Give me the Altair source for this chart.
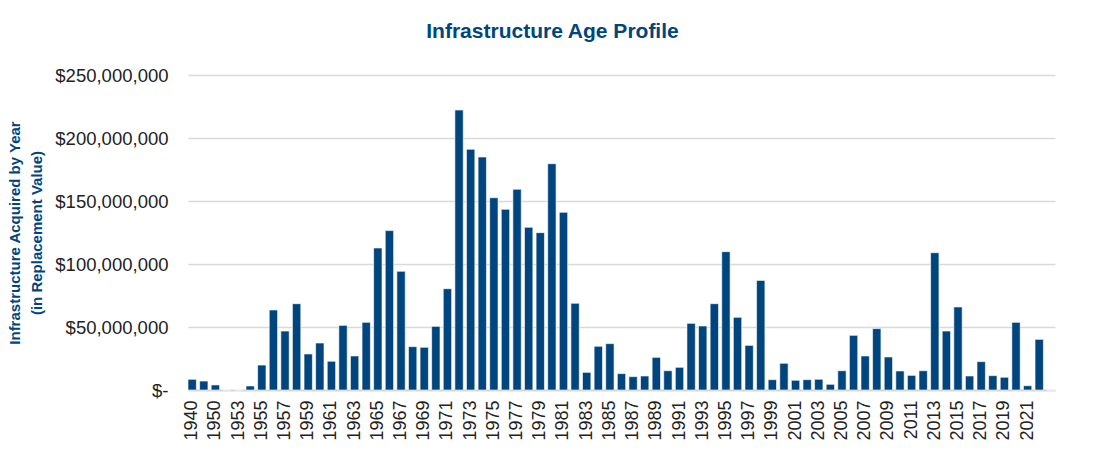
import altair as alt
import pandas as pd

years = ["1940", "1945", "1950", "1952", "1953", "1954", "1955", "1956", "1957", "1958",
         "1959", "1960", "1961", "1962", "1963", "1964", "1965", "1966", "1967", "1968",
         "1969", "1970", "1971", "1972", "1973", "1974", "1975", "1976", "1977", "1978",
         "1979", "1980", "1981", "1982", "1983", "1984", "1985", "1986", "1987", "1988",
         "1989", "1990", "1991", "1992", "1993", "1994", "1995", "1996", "1997", "1998",
         "1999", "2000", "2001", "2002", "2003", "2004", "2005", "2006", "2007", "2008",
         "2009", "2010", "2011", "2012", "2013", "2014", "2015", "2016", "2017", "2018",
         "2019", "2020", "2021", "2022", "2023"]

values_m = [8.5, 7.1, 4.0, 0, 0, 3.2, 19.8, 63.5, 46.8, 68.5,
            28.6, 37.3, 22.8, 51.3, 27.0, 53.7, 112.7, 126.5, 94.2, 34.4,
            33.9, 50.5, 80.4, 222.2, 191.0, 184.9, 152.6, 143.4, 159.3, 129.1,
            124.9, 179.6, 141.0, 68.8, 14.0, 34.7, 36.8, 13.0, 10.6, 11.1,
            25.9, 15.3, 18.0, 52.9, 50.8, 68.5, 109.8, 57.7, 35.4, 87.0,
            8.2, 21.2, 7.7, 8.2, 8.5, 4.5, 15.3, 43.4, 27.0, 48.7,
            26.2, 15.1, 11.6, 15.3, 109.0, 46.8, 65.9, 11.1, 22.5, 11.4,
            10.1, 53.7, 3.4, 40.2, 0]

shown_labels = years[0:74:2]
y_ticks = [0, 50_000_000, 100_000_000, 150_000_000, 200_000_000, 250_000_000]

df = pd.DataFrame({"year": years, "value": [v * 1_000_000 for v in values_m]})

BLUE = "#00457E"
FONT = "Liberation Sans, Arial, sans-serif"

chart = alt.Chart(df).mark_bar(
    color=BLUE, stroke="white", strokeWidth=0.6
).encode(
    x=alt.X("year:N", sort=years,
            scale=alt.Scale(domain=years, paddingInner=0.28, paddingOuter=0),
            axis=alt.Axis(title=None, values=shown_labels, labelAngle=270,
                          labelFont=FONT, labelFontSize=18, labelColor="#222222",
                          labelPadding=10, ticks=False, domainColor="#d0d0d0",
                          domainWidth=1.5, grid=False, labelOverlap=False)),
    y=alt.Y("value:Q",
            scale=alt.Scale(domain=[0, 250_000_000], nice=False),
            axis=alt.Axis(title=["Infrastructure Acquired by Year", "(in Replacement Value)"],
                          values=y_ticks,
                          labelExpr="datum.value == 0 ? '$-' : format(datum.value, '$,')",
                          labelFont=FONT, labelFontSize=18.5,
                          labelColor="#222222", labelPadding=20, ticks=False, domain=False,
                          gridColor="#d9d9d9", gridWidth=1.5,
                          titleFont=FONT, titleFontSize=15, titleFontWeight="bold",
                          titleColor=BLUE, titlePadding=10, titleLineHeight=22)),
).properties(
    width=867,
    height=315,
    title=alt.TitleParams("Infrastructure Age Profile", font=FONT, fontSize=21,
                          fontWeight="bold", color=BLUE, anchor="middle", dx=-69,
                          offset=24),
    autosize=alt.AutoSizeParams(type="none"),
    padding={"left": 188, "top": 75, "right": 50, "bottom": 69},
).configure_view(stroke=None)

chart.save("out.html", embed_options={"renderer": "svg", "actions": False})
